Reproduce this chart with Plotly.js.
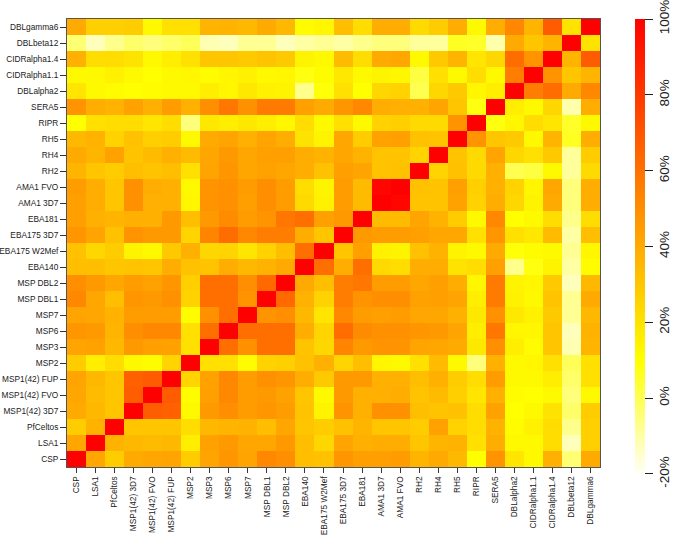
<!DOCTYPE html>
<html>
<head>
<meta charset="utf-8">
<script src="https://cdn.plot.ly/plotly-3.0.1.min.js"></script>
<style>html,body{margin:0;padding:0;background:#fff;}#chart{width:685px;height:535px;}</style>
</head>
<body>
<div id="chart"></div>
<script>
var antigens = ["CSP","LSA1","PfCeltos","MSP1(42) 3D7","MSP1(42) FVO","MSP1(42) FUP","MSP2","MSP3","MSP6","MSP7","MSP DBL1","MSP DBL2","EBA140","EBA175 W2Mef","EBA175 3D7","EBA181","AMA1 3D7","AMA1 FVO","RH2","RH4","RH5","RIPR","SERA5","DBLalpha2","CIDRalpha1.1","CIDRalpha1.4","DBLbeta12","DBLgamma6"];

// correlation (%) ; row i = antigens[i], column j = antigens[j]
var rowCSP       = [100,41,28,40,41,42,28,42,47,42,52,50,33,32,47,44,44,45,36,40,35,10,48,19,12,38,-4,40];
var rowLSA1      = [41,100,37,35,34,35,16,43,46,41,41,46,33,24,42,38,39,39,30,36,37,21,39,12,12,22,-13,27];
var rowPfCeltos  = [28,37,100,30,30,30,22,35,36,37,33,41,30,28,32,36,30,30,28,43,26,22,37,11,15,22,-7,27];
var rowMSP1_3D7  = [40,35,30,100,67,66,12,46,50,45,47,45,31,14,48,38,49,49,33,31,32,22,43,10,12,20,-3,28];
var rowMSP1_FVO  = [41,34,30,67,100,68,11,44,52,45,46,43,30,12,46,38,38,39,31,34,27,19,38,11,10,12,-5,12];
var rowMSP1_FUP  = [42,35,30,66,68,100,25,43,52,45,49,47,39,29,46,46,38,38,33,38,28,22,45,12,12,16,-3,21];
var rowMSP2      = [28,16,22,12,11,25,100,21,21,11,26,27,32,38,25,33,13,12,21,34,12,-5,38,12,13,21,-1,21];
var rowMSP3      = [42,43,35,46,44,43,21,100,61,49,61,61,31,24,53,46,48,48,42,41,40,18,50,16,11,30,-12,36];
var rowMSP6      = [47,46,36,50,52,52,21,61,100,61,61,61,39,25,62,51,49,49,47,46,42,16,58,13,13,30,-13,37];
var rowMSP7      = [42,41,37,45,45,45,11,49,61,100,48,50,35,19,52,45,44,45,41,41,38,18,49,18,15,29,-8,35];
var rowMSPDBL1   = [52,41,33,47,46,49,26,61,61,48,100,63,37,26,56,48,50,50,43,44,42,16,57,15,12,31,-8,40];
var rowMSPDBL2   = [50,46,41,45,43,47,27,61,61,50,63,100,40,33,56,58,45,45,41,44,39,13,57,14,13,29,-13,35];
var rowEBA140    = [33,33,30,31,30,39,32,31,39,35,37,40,100,61,39,61,23,22,39,39,20,22,44,-7,8,14,-10,11];
var rowEBA175W2  = [32,24,28,14,12,29,38,24,25,19,26,33,61,100,30,44,15,14,32,37,14,12,40,9,11,12,-8,13];
var rowEBA175_3D7= [47,42,32,48,46,46,25,53,62,52,56,56,39,30,100,46,45,45,44,41,41,21,47,21,18,34,-10,33];
var rowEBA181    = [44,38,36,38,38,46,33,46,51,45,48,58,61,44,46,100,34,34,42,37,28,12,52,10,12,22,-7,22];
var rowAMA1_3D7  = [44,39,30,49,38,38,13,48,49,44,50,45,23,15,45,34,100,98,31,31,43,26,39,24,14,40,-5,39];
var rowAMA1_FVO  = [45,39,30,49,39,38,12,48,49,45,50,45,22,14,45,34,98,100,32,31,44,27,38,26,13,41,-5,39];
var rowRH2       = [36,30,28,33,31,33,21,42,47,41,43,41,39,32,44,42,31,32,100,25,32,23,38,0,2,12,-9,23];
var rowRH4       = [40,36,43,31,34,38,34,41,46,41,44,44,39,37,41,37,31,31,25,100,31,23,42,24,21,29,-9,28];
var rowRH5       = [35,37,26,32,27,28,12,40,42,38,42,39,20,14,41,28,43,44,32,31,100,48,30,29,12,36,6,39];
var rowRIPR      = [10,21,22,22,19,22,-5,18,16,18,16,13,22,12,21,12,26,27,23,23,48,100,8,13,22,19,5,12];
var rowSERA5     = [48,39,37,43,38,45,38,50,58,49,57,57,44,40,47,52,39,38,38,42,30,8,100,16,12,24,-11,39];
var rowDBLalpha2 = [19,12,11,10,11,12,12,16,13,18,15,14,-7,9,21,10,24,26,0,24,29,13,16,100,56,62,40,52];
var rowCIDR11    = [12,12,15,12,10,12,13,11,13,15,12,13,8,11,18,12,14,13,2,21,12,22,12,56,100,48,30,36];
var rowCIDR14    = [38,22,22,20,12,16,21,30,30,29,31,29,14,12,34,22,40,41,12,29,36,19,24,62,48,100,36,68];
var rowDBLbeta12 = [-4,-13,-7,-3,-5,-3,-1,-12,-13,-8,-8,-13,-10,-8,-10,-7,-5,-5,-9,-9,6,5,-11,40,30,36,100,20];
var rowDBLgamma6 = [40,27,27,28,12,21,21,36,37,35,40,35,11,13,33,22,39,39,23,28,39,12,39,52,36,68,20,100];

var cbTickVals = [-20,0,20,40,60,80,100];
var cbTickText = ["-20%","0%","20%","40%","60%","80%","100%"];

var z = [rowCSP,rowLSA1,rowPfCeltos,rowMSP1_3D7,rowMSP1_FVO,rowMSP1_FUP,rowMSP2,rowMSP3,rowMSP6,rowMSP7,
         rowMSPDBL1,rowMSPDBL2,rowEBA140,rowEBA175W2,rowEBA175_3D7,rowEBA181,rowAMA1_3D7,rowAMA1_FVO,
         rowRH2,rowRH4,rowRH5,rowRIPR,rowSERA5,rowDBLalpha2,rowCIDR11,rowCIDR14,rowDBLbeta12,rowDBLgamma6];

var trace = {
  type: "heatmap",
  x: antigens,
  y: antigens,
  z: z,
  zmin: -20.02,
  zmax: 100.02,
  colorscale: [[0,"rgb(255,255,246)"],[0.25,"rgb(255,255,0)"],[1,"rgb(255,0,0)"]],
  colorbar: {
    x: 1.0664, xanchor: "left", xpad: 0,
    y: 1, yanchor: "top", ypad: 0,
    lenmode: "pixels", len: 455,
    thickness: 10,
    outlinewidth: 0,
    tickmode: "array", tickvals: cbTickVals, ticktext: cbTickText,
    ticks: "outside", ticklen: 8, tickcolor: "#222", tickwidth: 1,
    tickangle: -90,
    ticklabelstandoff: 8,
    ticklabeloverflow: "allow",
    tickfont: {family: "Liberation Sans, Arial, sans-serif", size: 13.5, color: "#222"}
  },
  hoverongaps: false
};

var axisFont = {family: "Liberation Sans, Arial, sans-serif", size: 8.3, color: "#222"};
var layout = {
  width: 685, height: 535,
  margin: {l: 67, r: 76, t: 19, b: 68},
  paper_bgcolor: "#fff", plot_bgcolor: "#fff",
  xaxis: {type: "category", tickangle: -90, tickfont: axisFont, ticks: "outside", ticklen: 5, tickcolor: "#333",
          showline: true, mirror: true, linecolor: "#555", linewidth: 1, showgrid: false, zeroline: false, automargin: false},
  yaxis: {type: "category", tickfont: axisFont, ticks: "outside", ticklen: 6, tickcolor: "#333",
          showline: true, mirror: true, linecolor: "#555", linewidth: 1, showgrid: false, zeroline: false, automargin: false},
  font: {family: "Liberation Sans, Arial, sans-serif"}
};

Plotly.newPlot("chart", [trace], layout, {displayModeBar: false, staticPlot: true});
</script>
</body>
</html>
